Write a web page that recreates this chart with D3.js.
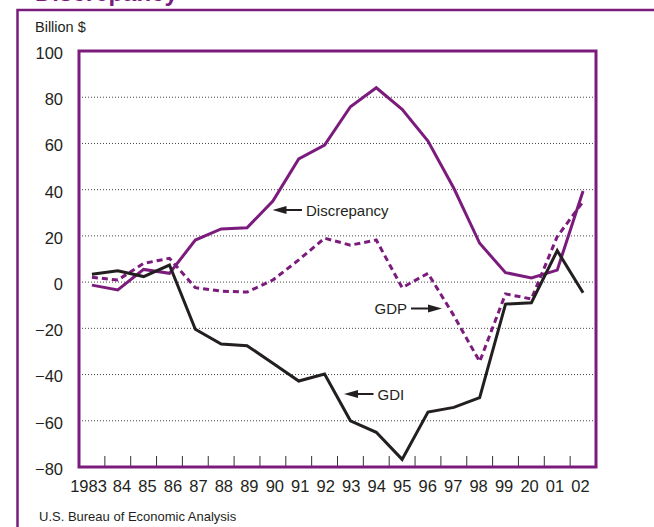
<!DOCTYPE html>
<html>
<head>
<meta charset="utf-8">
<script src="https://cdn.jsdelivr.net/npm/d3@7"></script>
<style>
  body { margin: 0; background: #fff; }
  svg { display: block; font-family: Arial, "Liberation Sans", sans-serif; }
</style>
</head>
<body>
<div id="chart"></div>
<script>
const years = ["1983", "84", "85", "86", "87", "88", "89", "90", "91", "92",
               "93", "94", "95", "96", "97", "98", "99", "20", "01", "02"]
const gdp = [2.1, 0.9, 8.1, 10.3, -2.4, -3.9, -4.3, 0.9, 9.6, 19,
             16, 18.2, -2.4, 3.8, -14.5, -34.4, -5.1, -7.3, 19.7, 34.8]
const gdi = [3.4, 4.9, 2.4, 7.4, -20.4, -26.8, -27.5, -35.1, -42.8, -39.8,
             -60, -65, -76.7, -56.2, -54.2, -50, -9.5, -8.9, 13.6, -4.6]
const discrepancy = [-1.3, -3.4, 5.5, 3.8, 18.2, 23, 23.5, 35.1, 53.3, 59.3,
                     75.9, 84.1, 74.8, 61, 40.6, 16.8, 4.1, 1.8, 5.2, 39.4]
const yTicks = [100, 80, 60, 40, 20, 0, -20, -40, -60, -80]
const gridValues = [80, 60, 40, 20, 0, -20, -40, -60]

const width = 654, height = 527
const purple = "#7b1c7d"
const ink = "#231f20"
const margin = {top: 51, right: 58, bottom: 60, left: 79}

const svg = d3.select("#chart")
    .append("svg")
        .attr("width", width)
        .attr("height", height)

// outer box (top and left rules) and the cut-off title
svg.append("text")
    .attr("x", 35)
    .attr("y", 1)
    .attr("fill", purple)
    .attr("font-weight", "bold")
    .attr("font-size", 24)
    .text("Discrepancy")

svg.append("path")
    .attr("d", `M17.5,${height} V10 H${width}`)
    .attr("fill", "none")
    .attr("stroke", purple)
    .attr("stroke-width", 2.5)

svg.append("text")
    .attr("x", 35)
    .attr("y", 32)
    .attr("font-size", 14.5)
    .attr("fill", ink)
    .text("Billion $")

svg.append("text")
    .attr("x", 39)
    .attr("y", 521)
    .attr("font-size", 13)
    .attr("fill", ink)
    .text("U.S. Bureau of Economic Analysis")

const x = d3.scaleBand()
    .domain(years)
    .range([margin.left, width - margin.right])
    .padding(0)

// year labels sit a little tighter than the bands
const xLabel = d3.scalePoint()
    .domain(years)
    .range([96, 580])

const y = d3.scaleLinear()
    .domain([-80, 100])
    .range([height - margin.bottom, margin.top])

const cx = d => x(d) + x.bandwidth() / 2

// dotted gridlines
svg.append("g")
    .selectAll("line")
    .data(gridValues)
    .join("line")
        .attr("x1", margin.left)
        .attr("x2", width - margin.right)
        .attr("y1", d => y(d))
        .attr("y2", d => y(d))
        .attr("stroke", "#444")
        .attr("stroke-width", 1)
        .attr("stroke-dasharray", "1,2")

// y axis labels
const yAxis = svg.append("g")
    .attr("transform", `translate(${margin.left - 16},0)`)
    .call(d3.axisLeft(y).tickValues(yTicks).tickSize(0).tickPadding(0)
        .tickFormat(d => d < 0 ? "\u2212" + Math.abs(d) : d))
yAxis.select(".domain").remove()
yAxis.selectAll("text")
    .attr("font-size", 16.5)
    .attr("font-family", "Arial, 'Liberation Sans', sans-serif")
    .attr("fill", ink)
    .attr("dy", "0.45em")

// x axis: labels near year centres, ticks at year boundaries
const xAxis = svg.append("g")
    .attr("transform", `translate(0,${height - margin.bottom})`)
    .call(d3.axisBottom(xLabel).tickSize(0).tickPadding(0))
xAxis.select(".domain").remove()
xAxis.selectAll("text")
    .attr("font-size", 16.5)
    .attr("font-family", "Arial, 'Liberation Sans', sans-serif")
    .attr("fill", ink)
    .attr("dy", "1.5em")
    .attr("dx", d => d === "1983" ? -8 : 0)

svg.append("g")
    .selectAll("line")
    .data(years.slice(1))
    .join("line")
        .attr("x1", d => x(d))
        .attr("x2", d => x(d))
        .attr("y1", height - margin.bottom)
        .attr("y2", height - margin.bottom - 11)
        .attr("stroke", "#333")
        .attr("stroke-width", 1)

const line = d3.line()
    .x((d, i) => cx(years[i]))
    .y(d => y(d))

svg.append("path")
    .attr("d", line(gdp))
    .attr("fill", "none")
    .attr("stroke", purple)
    .attr("stroke-width", 3)
    .attr("stroke-dasharray", "6,4")

svg.append("path")
    .attr("d", line(discrepancy))
    .attr("fill", "none")
    .attr("stroke", purple)
    .attr("stroke-width", 3)

svg.append("path")
    .attr("d", line(gdi))
    .attr("fill", "none")
    .attr("stroke", ink)
    .attr("stroke-width", 3)

// plot frame
svg.append("rect")
    .attr("x", margin.left)
    .attr("y", margin.top)
    .attr("width", width - margin.left - margin.right)
    .attr("height", height - margin.top - margin.bottom)
    .attr("fill", "none")
    .attr("stroke", purple)
    .attr("stroke-width", 3)

// annotations: arrow tip, arrow tail, label
const notes = [
    {label: "Discrepancy", tip: [272.5, 210], tail: [302, 210], text: [306, 215.5], anchor: "start"},
    {label: "GDP", tip: [442, 308.5], tail: [411, 308.5], text: [407, 314], anchor: "end"},
    {label: "GDI", tip: [344, 394], tail: [373.5, 394], text: [377.5, 399.5], anchor: "start"}
]

const note = svg.append("g").selectAll("g")
    .data(notes)
    .join("g")

note.append("line")
    .attr("x1", d => d.tail[0])
    .attr("y1", d => d.tail[1])
    .attr("x2", d => d.tip[0] + Math.sign(d.tail[0] - d.tip[0]) * 10)
    .attr("y2", d => d.tip[1])
    .attr("stroke", ink)
    .attr("stroke-width", 2)

note.append("path")
    .attr("d", d => {
        const s = Math.sign(d.tail[0] - d.tip[0])
        const [tx, ty] = d.tip
        return `M${tx},${ty} L${tx + s * 14},${ty - 4} L${tx + s * 14},${ty + 4} Z`
    })
    .attr("fill", ink)

note.append("text")
    .attr("x", d => d.text[0])
    .attr("y", d => d.text[1])
    .attr("text-anchor", d => d.anchor)
    .attr("font-size", 15)
    .attr("fill", ink)
    .text(d => d.label)
</script>
</body>
</html>
